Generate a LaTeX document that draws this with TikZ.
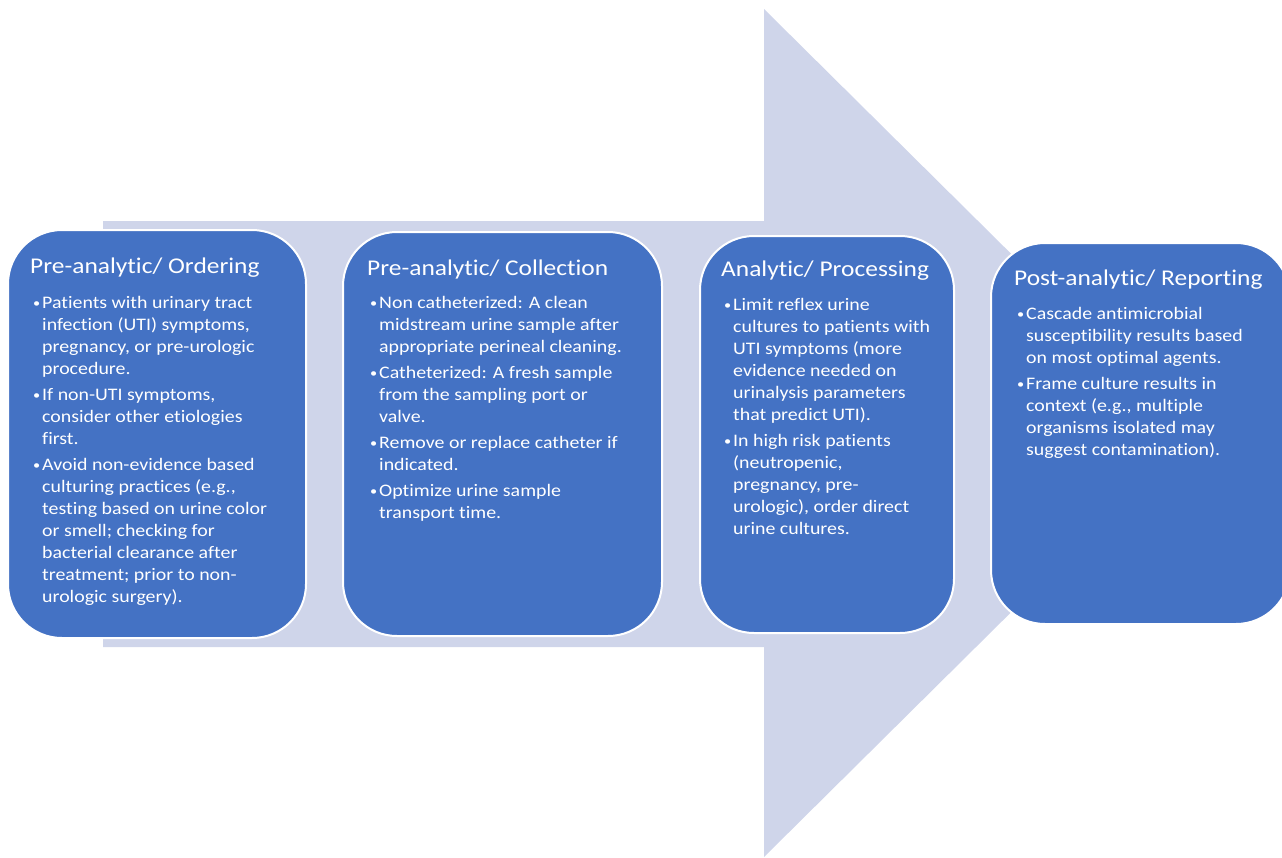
\documentclass[tikz,border=0pt]{standalone}
\usepackage{fontspec}
\setmainfont[FakeStretch=1.13,Ligatures=NoCommon]{Carlito}
\usepackage{array}
\definecolor{arrowfill}{HTML}{CFD5EA}
\definecolor{boxfill}{HTML}{4472C4}
\newcommand{\bt}{\makebox[9pt][l]{\raisebox{0.5pt}{\scalebox{0.72}{\textbullet}}}}
\newcommand{\ind}{\hspace*{9pt}}
\begin{document}
\begin{tikzpicture}[x=1pt,y=-1pt,
  stagebox/.style={draw=white,line width=2pt,fill=boxfill,rounded corners=54pt},
  titletext/.style={anchor=base west,inner sep=0pt,text=white,font=\fontsize{22.5}{27}\selectfont},
  bodytext/.style={anchor=base west,inner sep=0pt,text=white,font=\fontsize{17.6}{22}\selectfont}]
\useasboundingbox (0,0) rectangle (1282,857);
\fill[arrowfill] (103,221) -- (764,221) -- (764,9) -- (1192,433) -- (764,857) -- (764,647) -- (103,647) -- cycle;
% boxes
\draw[stagebox] (8,230) rectangle (306,638) node[pos=0.5] (b1) {};
\draw[stagebox] (343,232) rectangle (662,636) node[pos=0.5] (b2) {};
\draw[stagebox] (700,236) rectangle (954,633) node[pos=0.5] (b3) {};
\draw[stagebox] (991,243) rectangle (1290,624) node[pos=0.5] (b4) {};
% box 1
\node[titletext] (t1) at (30,273) {Pre-analytic/ Ordering};
\node[bodytext] (x1) at (33,308) {\begin{tabular}[t]{@{}l@{}}
\bt Patients with urinary tract\\
\ind infection (UTI) symptoms,\\
\ind pregnancy, or pre-urologic\\
\ind procedure.\\[4pt]
\bt If non-UTI symptoms,\\
\ind consider other etiologies\\
\ind first.\\[4pt]
\bt Avoid non-evidence based\\
\ind culturing practices (e.g.,\\
\ind testing based on urine color\\
\ind or smell; checking for\\
\ind bacterial clearance after\\
\ind treatment; prior to non-\\
\ind urologic surgery).
\end{tabular}};
% box 2
\node[titletext] (t2) at (367,275) {Pre-analytic/ Collection};
\node[bodytext] (x2) at (370,308) {\begin{tabular}[t]{@{}l@{}}
\bt Non catheterized: A clean\\
\ind midstream urine sample after\\
\ind appropriate perineal cleaning.\\[4pt]
\bt Catheterized: A fresh sample\\
\ind from the sampling port or\\
\ind valve.\\[4pt]
\bt Remove or replace catheter if\\
\ind indicated.\\[4pt]
\bt Optimize urine sample\\
\ind transport time.
\end{tabular}};
% box 3
\node[titletext] (t3) at (721,276) {Analytic/ Processing};
\node[bodytext] (x3) at (724,310) {\begin{tabular}[t]{@{}l@{}}
\bt Limit reflex urine\\
\ind cultures to patients with\\
\ind UTI symptoms (more\\
\ind evidence needed on\\
\ind urinalysis parameters\\
\ind that predict UTI).\\[4pt]
\bt In high risk patients\\
\ind (neutropenic,\\
\ind pregnancy, pre-\\
\ind urologic), order direct\\
\ind urine cultures.
\end{tabular}};
% box 4
\node[titletext] (t4) at (1014,285) {Post-analytic/ Reporting};
\node[bodytext] (x4) at (1017,319) {\begin{tabular}[t]{@{}l@{}}
\bt Cascade antimicrobial\\
\ind susceptibility results based\\
\ind on most optimal agents.\\[4pt]
\bt Frame culture results in\\
\ind context (e.g., multiple\\
\ind organisms isolated may\\
\ind suggest contamination).
\end{tabular}};
\end{tikzpicture}
\end{document}
